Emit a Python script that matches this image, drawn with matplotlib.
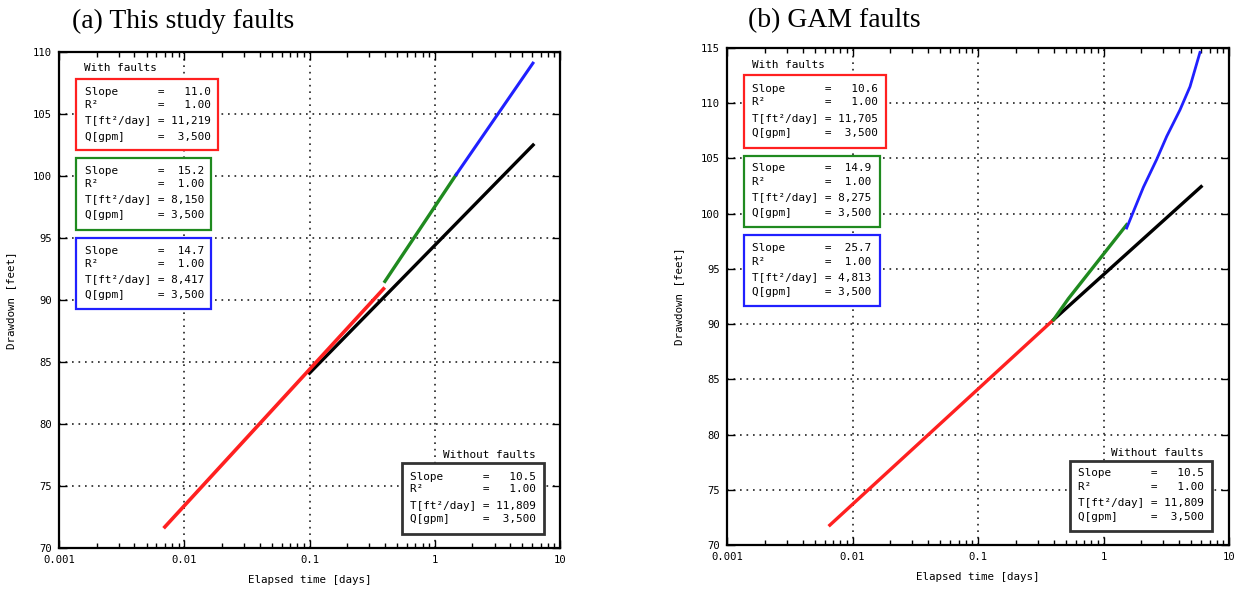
import matplotlib
matplotlib.use("Agg")
import matplotlib.pyplot as plt
from matplotlib.patches import Rectangle
from matplotlib.ticker import LogLocator, FixedLocator, NullFormatter, FuncFormatter

MONO = "DejaVu Sans Mono"

# ---- data: elapsed time [days] and drawdown [feet] for each fitted segment ----
# (a) This study faults
a_black_t = [0.1, 6.1]
a_black_s = [84.1, 102.5]
a_red_t = [0.0070, 0.39]
a_red_s = [71.7, 90.9]
a_green_t = [0.40, 1.48]
a_green_s = [91.5, 100.1]
a_blue_t = [1.48, 6.08]
a_blue_s = [100.1, 109.1]

# (b) GAM faults
b_black_t = [0.4, 6.0]
b_black_s = [90.4, 102.45]
b_red_t = [0.0066, 0.40]
b_red_s = [71.8, 90.4]
b_green_t = [0.40, 0.525, 1.53]
b_green_s = [90.4, 92.3, 99.0]
b_blue_t = [1.53, 2.08, 2.65, 3.19, 4.07, 4.89, 5.87]
b_blue_s = [98.7, 102.4, 104.9, 107.0, 109.4, 111.5, 114.6]

# ---- fit statistics shown in the boxes ----
a_with = [("11.0", "1.00", "11,219", "3,500"),
          ("15.2", "1.00", "8,150", "3,500"),
          ("14.7", "1.00", "8,417", "3,500")]
b_with = [("10.6", "1.00", "11,705", "3,500"),
          ("14.9", "1.00", "8,275", "3,500"),
          ("25.7", "1.00", "4,813", "3,500")]
without_stats = ("10.5", "1.00", "11,809", "3,500")

a_ylim = (70, 110)
b_ylim = (70, 115)
x_ticks = [0.001, 0.01, 0.1, 1, 10]
x_ticklabels = ["0.001", "0.01", "0.1", "1", "10"]

RED = "#ff2020"
GREEN = "#1f8a1f"
BLUE = "#2020ff"
BOX_DARK = "#333333"

W, H = 1239, 592
fig = plt.figure(figsize=(W / 100, H / 100), dpi=100)


def make_axes(left, top, right, bottom):
    return fig.add_axes([left / W, 1 - bottom / H, (right - left) / W, (bottom - top) / H])


def style_axes(ax, ylim):
    ax.set_xscale("log")
    ax.set_xlim(0.001, 10)
    ax.set_ylim(*ylim)
    ax.xaxis.set_major_locator(FixedLocator(x_ticks))
    ax.xaxis.set_major_formatter(FuncFormatter(lambda v, p: x_ticklabels[x_ticks.index(v)] if v in x_ticks else ""))
    ax.xaxis.set_minor_locator(LogLocator(base=10, subs=range(2, 10)))
    ax.xaxis.set_minor_formatter(NullFormatter())
    ax.set_yticks(range(ylim[0], ylim[1] + 1, 5))
    ax.tick_params(which="both", direction="in", top=True, right=True, width=1.0, color="black")
    ax.tick_params(which="major", length=6, labelsize=7.6, pad=5)
    ax.tick_params(which="minor", length=3.6)
    for lab in ax.get_xticklabels() + ax.get_yticklabels():
        lab.set_family(MONO)
    for sp in ax.spines.values():
        sp.set_linewidth(1.6)
    ax.grid(True, which="major", color="#222222", linestyle=(0, (1, 2.9)), linewidth=1.2)
    ax.set_xlabel("Elapsed time [days]", family=MONO, fontsize=7.8, labelpad=7)
    ax.set_ylabel("Drawdown [feet]", family=MONO, fontsize=7.8, labelpad=12)


def stat_lines(vals, width):
    slope, r2, tr, q = vals
    out = []
    for name, v in (("Slope", slope), ("R\u00b2", r2), ("T[ft\u00b2/day]", tr), ("Q[gpm]", q)):
        out.append(name.ljust(10) + " =" + v.rjust(width))
    return out


def draw_box(ax, axbox, rect, color, lines, text_x, line_ys, lw=1.6):
    left, top, right, bottom = axbox

    def fx(x):
        return (x - left) / (right - left)

    def fy(y):
        return (bottom - y) / (bottom - top)

    x0, y0, x1, y1 = rect
    ax.add_patch(Rectangle((fx(x0), fy(y1)), fx(x1) - fx(x0), fy(y0) - fy(y1),
                           transform=ax.transAxes, fill=True, facecolor="white",
                           edgecolor=color, linewidth=lw, zorder=5, clip_on=False))
    for line, ly in zip(lines, line_ys):
        ax.text(fx(text_x), fy(ly), line, transform=ax.transAxes, family=MONO,
                fontsize=7.9, va="center", ha="left", zorder=6)


def label(ax, axbox, x, y, s):
    left, top, right, bottom = axbox
    ax.text((x - left) / (right - left), (bottom - y) / (bottom - top), s,
            transform=ax.transAxes, family=MONO, fontsize=7.9, va="center", ha="left", zorder=6)


# ---------------- panel (a) ----------------
box_a = (59, 52, 560, 548)
ax1 = make_axes(*box_a)
style_axes(ax1, a_ylim)
ax1.plot(a_black_t, a_black_s, color="black", lw=2.4, zorder=3)
ax1.plot(a_red_t, a_red_s, color=RED, lw=2.6, zorder=4)
ax1.plot(a_green_t, a_green_s, color=GREEN, lw=2.4, zorder=4)
ax1.plot(a_blue_t, a_blue_s, color=BLUE, lw=2.2, zorder=4)

label(ax1, box_a, 84, 68, "With faults")
draw_box(ax1, box_a, (76, 79, 218, 150), RED, stat_lines(a_with[0], 7), 85, [92, 105, 121, 137])
draw_box(ax1, box_a, (76, 158, 211, 230), GREEN, stat_lines(a_with[1], 6), 85, [171, 184, 200, 215])
draw_box(ax1, box_a, (76, 238, 211, 309), BLUE, stat_lines(a_with[2], 6), 85, [251, 264, 280, 295])
label(ax1, box_a, 443, 455, "Without faults")
draw_box(ax1, box_a, (402, 463, 544, 534), BOX_DARK, stat_lines(without_stats, 7), 410,
         [477, 489, 506, 519], lw=2.0)

# ---------------- panel (b) ----------------
box_b = (727, 48, 1229, 545)
ax2 = make_axes(*box_b)
style_axes(ax2, b_ylim)
ax2.plot(b_black_t, b_black_s, color="black", lw=2.4, zorder=3)
ax2.plot(b_red_t, b_red_s, color=RED, lw=2.4, zorder=4)
ax2.plot(b_green_t, b_green_s, color=GREEN, lw=2.4, zorder=4)
ax2.plot(b_blue_t, b_blue_s, color=BLUE, lw=2.0, zorder=4)

label(ax2, box_b, 752, 65, "With faults")
draw_box(ax2, box_b, (744, 75, 886, 148), RED, stat_lines(b_with[0], 7), 752, [89, 102, 119, 133])
draw_box(ax2, box_b, (744, 156, 880, 227), GREEN, stat_lines(b_with[1], 6), 752, [168, 182, 198, 213])
draw_box(ax2, box_b, (744, 235, 880, 306), BLUE, stat_lines(b_with[2], 6), 752, [248, 262, 278, 292])
label(ax2, box_b, 1111, 453, "Without faults")
draw_box(ax2, box_b, (1070, 461, 1212, 531), BOX_DARK, stat_lines(without_stats, 7), 1078,
         [473, 487, 503, 517], lw=2.0)

# panel titles
fig.text(72 / W, 1 - 21 / H, "(a) This study faults", family="Liberation Serif", fontsize=20,
         ha="left", va="center")
fig.text(748 / W, 1 - 21 / H, "(b) GAM faults", family="Liberation Serif", fontsize=20,
         ha="left", va="center")

fig.savefig("out.png", dpi=100, facecolor="white")
